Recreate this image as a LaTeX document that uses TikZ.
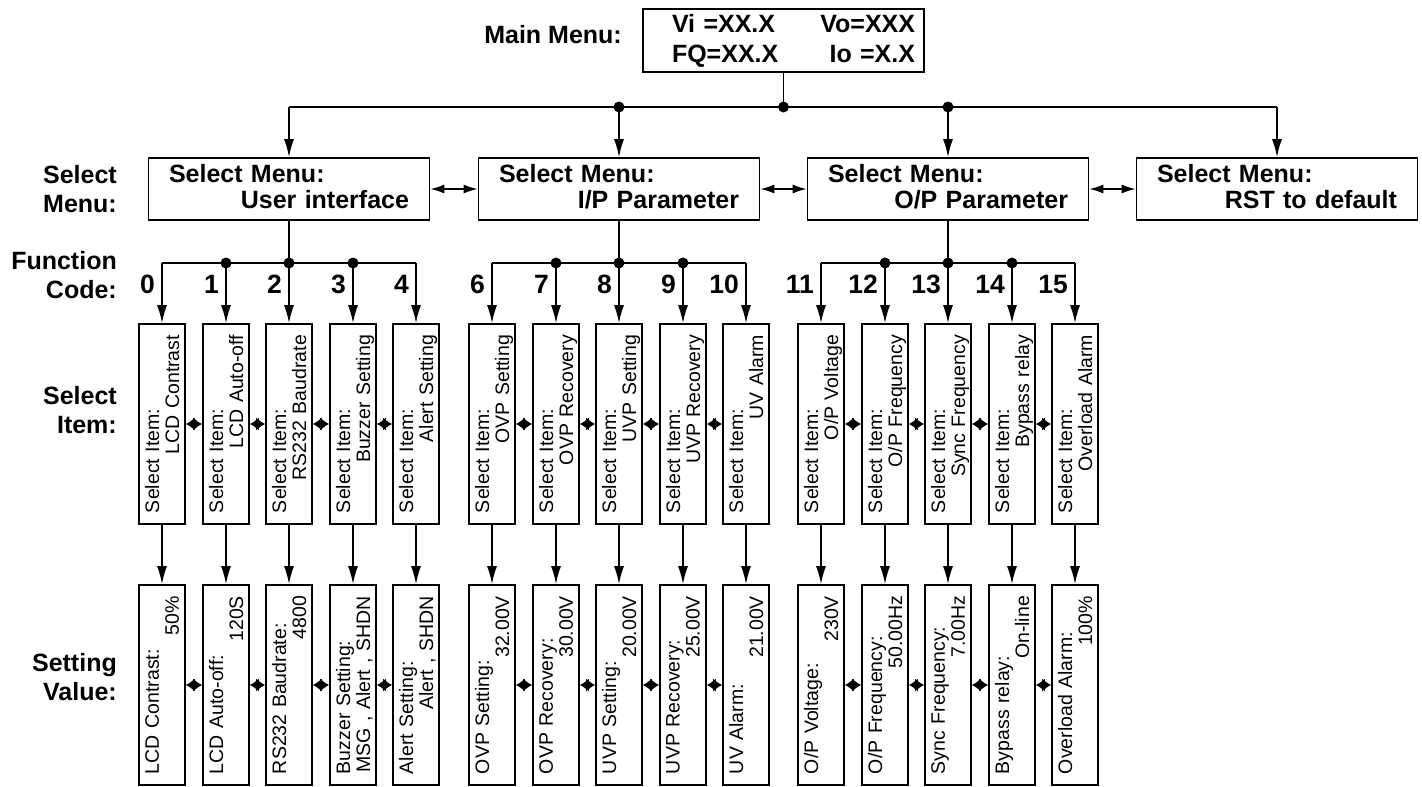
\documentclass[tikz,border=0pt]{standalone}
\usepackage{fontspec}
\setmainfont{Liberation Sans}
\usetikzlibrary{arrows.meta}
\newcommand{\twol}[2]{\begin{tabular}[t]{@{}r@{}}#1\\#2\end{tabular}}
\tikzset{
  x=1pt, y=-1pt,
  line/.style={line width=1.6pt},
  box/.style={draw, line width=1.6pt, inner ysep=0pt},
  mainbox/.style={box, font=\bfseries\fontsize{25}{30}\selectfont, text width=263pt, inner xsep=9pt, align=left, minimum height=63pt},
  menubox/.style={box, font=\bfseries\fontsize{25}{26}\selectfont, text width=240pt, inner xsep=20.5pt, align=left, minimum height=62pt, text depth=32pt},
  itembox/.style={box, rotate=90, font=\fontsize{19.5}{20}\selectfont, text width=178pt, inner xsep=11pt, align=left, minimum height=46pt, text depth=20pt},
  dot/.style={circle, fill, inner sep=0pt, minimum size=11pt},
  arr/.style={line, -{Latex[length=18pt,width=10pt]}},
  marr/.style={line, {Latex[length=14pt,width=9pt]}-{Latex[length=14pt,width=9pt]}},
  darr/.style={line, {Latex[length=9pt,width=13pt]}-{Latex[length=9pt,width=13pt]}},
  lbl/.style={font=\bfseries\fontsize{25}{29}\selectfont, anchor=base east, inner sep=0pt},
  fcode/.style={font=\bfseries\fontsize{26.5}{30}\selectfont, anchor=base east, inner sep=0pt},
}
\begin{document}
\begin{tikzpicture}
\useasboundingbox (0,0) rectangle (1422,787);

% main menu
\node[lbl] (lmain) at (622,43) {Main Menu:};
\node[mainbox] (main) at (783.5,40.5) {\hspace*{20pt}Vi =XX.X\hfill Vo=XXX\\\hspace*{20pt}FQ=XX.X\hfill Io =X.X};

% left labels
\node[lbl] (lsm) at (117,183) {\twol{Select}{Menu:}};
\node[lbl] (lfc) at (117,269) {\twol{Function}{Code:}};
\node[lbl] (lsi) at (117,404) {\twol{Select}{Item:}};
\node[lbl] (lsv) at (117,671) {\twol{Setting}{Value:}};

% select menus
\node[menubox] (m1) at (289,189) {Select Menu:\\\hspace*{\fill}User interface};
\node[menubox] (m2) at (619,189) {Select Menu:\\\hspace*{\fill}I/P Parameter};
\node[menubox] (m3) at (948,189) {Select Menu:\\\hspace*{\fill}O/P Parameter};
\node[menubox] (m4) at (1277,189) {Select Menu:\\\hspace*{\fill}RST to default};

% main bus
\coordinate (bL) at (289,107);
\coordinate (bR) at (1277,107);
\node[dot] (bc) at (783.5,107) {};
\node[dot] (b2) at (619,107) {};
\node[dot] (b3) at (948,107) {};
\draw[line] (bL) -- (bR);
\draw[line] (main.south) -- (bc.center);
\draw[arr] (bL) -- (m1.north);
\draw[arr] (b2.center) -- (m2.north);
\draw[arr] (b3.center) -- (m3.north);
\draw[arr] (bR) -- (m4.north);
\draw[marr] (m1.east) -- (m2.west);
\draw[marr] (m2.east) -- (m3.west);
\draw[marr] (m3.east) -- (m4.west);

% select items
\node[itembox] (i0) at (162,424) {Select Item:\\\hspace*{\fill}LCD Contrast};
\node[itembox] (i1) at (226,424) {Select Item:\\\hspace*{\fill}LCD Auto-off};
\node[itembox] (i2) at (289,424) {Select Item:\\\hspace*{\fill}RS232 Baudrate};
\node[itembox] (i3) at (353,424) {Select Item:\\\hspace*{\fill}Buzzer Setting};
\node[itembox] (i4) at (416,424) {Select Item:\\\hspace*{\fill}Alert Setting};
\node[itembox] (i6) at (492,424) {Select Item:\\\hspace*{\fill}OVP Setting};
\node[itembox] (i7) at (556,424) {Select Item:\\\hspace*{\fill}OVP Recovery};
\node[itembox] (i8) at (619,424) {Select Item:\\\hspace*{\fill}UVP Setting};
\node[itembox] (i9) at (683,424) {Select Item:\\\hspace*{\fill}UVP Recovery};
\node[itembox] (i10) at (746,424) {Select Item:\\\hspace*{\fill}UV Alarm};
\node[itembox] (i11) at (821,424) {Select Item:\\\hspace*{\fill}O/P Voltage};
\node[itembox] (i12) at (885,424) {Select Item:\\\hspace*{\fill}O/P Frequency};
\node[itembox] (i13) at (948,424) {Select Item:\\\hspace*{\fill}Sync Frequency};
\node[itembox] (i14) at (1012,424) {Select Item:\\\hspace*{\fill}Bypass relay};
\node[itembox] (i15) at (1075,424) {Select Item:\\\hspace*{\fill}Overload Alarm};

% setting values
\node[itembox] (v0) at (162,685) {LCD Contrast:\\\hspace*{\fill}50\%};
\node[itembox] (v1) at (226,685) {LCD Auto-off:\\\hspace*{\fill}120S};
\node[itembox] (v2) at (289,685) {RS232 Baudrate:\\\hspace*{\fill}4800};
\node[itembox] (v3) at (353,685) {Buzzer Setting:\\\hspace*{\fill}\mbox{MSG , Alert , SHDN}};
\node[itembox] (v4) at (416,685) {Alert Setting:\\\hspace*{\fill}Alert , SHDN};
\node[itembox] (v6) at (492,685) {OVP Setting:\\\hspace*{\fill}32.00V};
\node[itembox] (v7) at (556,685) {OVP Recovery:\\\hspace*{\fill}30.00V};
\node[itembox] (v8) at (619,685) {UVP Setting:\\\hspace*{\fill}20.00V};
\node[itembox] (v9) at (683,685) {UVP Recovery:\\\hspace*{\fill}25.00V};
\node[itembox] (v10) at (746,685) {UV Alarm:\\\hspace*{\fill}21.00V};
\node[itembox] (v11) at (821,685) {O/P Voltage:\\\hspace*{\fill}230V};
\node[itembox] (v12) at (885,685) {O/P Frequency:\\\hspace*{\fill}50.00Hz};
\node[itembox] (v13) at (948,685) {Sync Frequency:\\\hspace*{\fill}7.00Hz};
\node[itembox] (v14) at (1012,685) {Bypass relay:\\\hspace*{\fill}On-line};
\node[itembox] (v15) at (1075,685) {Overload Alarm:\\\hspace*{\fill}100\%};

% function codes
\node[fcode] (n0) at (155,293) {0};
\node[fcode] (n1) at (219,293) {1};
\node[fcode] (n2) at (282,293) {2};
\node[fcode] (n3) at (346,293) {3};
\node[fcode] (n4) at (409,293) {4};
\node[fcode] (n6) at (485,293) {6};
\node[fcode] (n7) at (549,293) {7};
\node[fcode] (n8) at (612,293) {8};
\node[fcode] (n9) at (676,293) {9};
\node[fcode] (n10) at (739,293) {10};
\node[fcode] (n11) at (814,293) {11};
\node[fcode] (n12) at (878,293) {12};
\node[fcode] (n13) at (941,293) {13};
\node[fcode] (n14) at (1005,293) {14};
\node[fcode] (n15) at (1068,293) {15};

% function buses
\foreach \g/\m/\a/\b/\c/\d/\e in {A/m1/0/1/2/3/4, B/m2/6/7/8/9/10, C/m3/11/12/13/14/15}{
  \node[dot] (f\g1) at (i\b.east |- 0,263) {};
  \node[dot] (f\g2) at (i\c.east |- 0,263) {};
  \node[dot] (f\g3) at (i\d.east |- 0,263) {};
  \draw[line] (\m.south) -- (f\g2.center);
  \draw[line] (i\a.east |- f\g2.center) -- (i\e.east |- f\g2.center);
  \draw[arr] (i\a.east |- f\g2.center) -- (i\a.east);
  \draw[arr] (f\g1.center) -- (i\b.east);
  \draw[arr] (f\g2.center) -- (i\c.east);
  \draw[arr] (f\g3.center) -- (i\d.east);
  \draw[arr] (i\e.east |- f\g2.center) -- (i\e.east);
}

% item to value
\foreach \k in {0,1,2,3,4,6,7,8,9,10,11,12,13,14,15}{
  \draw[arr] (i\k.west) -- (v\k.east);
}

% sideways links
\foreach \a/\b in {0/1,1/2,2/3,3/4,6/7,7/8,8/9,9/10,11/12,12/13,13/14,14/15}{
  \draw[darr] (i\a.south) -- (i\b.north);
  \draw[darr] (v\a.south) -- (v\b.north);
}
\end{tikzpicture}
\end{document}
